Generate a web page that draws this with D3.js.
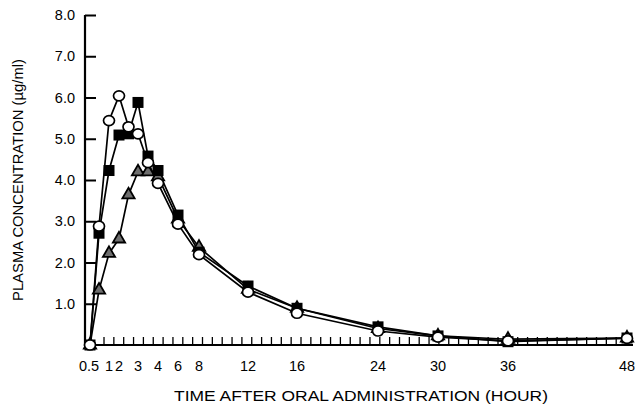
<!DOCTYPE html>
<html>
<head>
<meta charset="utf-8">
<script src="https://cdn.jsdelivr.net/npm/d3@7"></script>
<style>
  body { margin: 0; background: #fff; }
  text { font-family: "Liberation Sans", Arial, sans-serif; fill: #000; }
</style>
</head>
<body>
<div id="chart"></div>
<script>
// sampling times (hours) and the three plasma curves (ug/ml)
var times     = [0, 0.5, 1, 2, 2.5, 3, 3.5, 4, 6, 8, 12, 16, 24, 30, 36, 48];
var circles   = [0, 2.88, 5.44, 6.04, 5.29, 5.12, 4.42, 3.92, 2.93, 2.19, 1.28, 0.77, 0.34, 0.19, 0.10, 0.16];
var squares   = [0, 2.71, 4.23, 5.09, 5.12, 5.88, 4.58, 4.23, 3.15, 2.25, 1.43, 0.89, 0.44, 0.22, 0.08, 0.17];
var triangles = [0, 1.33, 2.22, 2.57, 3.64, 4.20, 4.20, 4.08, 3.05, 2.37, 1.35, 0.89, 0.40, 0.22, 0.14, 0.17];

var xTicks = [0.5, 1, 2, 3, 4, 6, 8, 12, 16, 24, 30, 36, 48];
var yTicks = [1, 2, 3, 4, 5, 6, 7, 8];

var width = 635, height = 405;

var svg = d3.select("#chart")
  .append("svg")
    .attr("width", width)
    .attr("height", height);

// the time axis of the original is not evenly spaced, so use a piecewise scale
var x = d3.scaleLinear()
  .domain([0, 0.5, 1, 2, 3, 4, 6, 8, 12, 16, 24, 30, 36, 48])
  .range([90, 99, 109, 119, 138, 158, 178, 199, 248, 297, 378, 438, 508, 627]);

var y = d3.scaleLinear()
  .domain([0, 8])
  .range([345, 15]);

// Y axis
var yAxis = svg.append("g")
  .attr("transform", "translate(85,0)")
  .call(d3.axisRight(y).tickValues(yTicks).tickSize(11).tickFormat(""));
yAxis.select(".domain").remove();
yAxis.selectAll(".tick line").attr("stroke", "#000").attr("stroke-width", 2);
svg.append("line")
  .attr("x1", 85).attr("x2", 85)
  .attr("y1", 15).attr("y2", 346)
  .attr("stroke", "#000").attr("stroke-width", 2.2);

svg.append("g").selectAll("text")
  .data(yTicks)
  .enter()
    .append("text")
    .attr("x", 75)
    .attr("y", function (d) { return y(d) + 5; })
    .attr("text-anchor", "end")
    .style("font-size", "14.5px")
    .text(function (d) { return d.toFixed(1); });

// X axis line + the little tick marks along it
svg.append("line")
  .attr("x1", 84).attr("x2", 633)
  .attr("y1", 345).attr("y2", 345)
  .attr("stroke", "#000").attr("stroke-width", 2.2);

svg.append("g").selectAll("line")
  .data(d3.range(104, 632, 9.85))
  .enter()
    .append("line")
    .attr("x1", function (d) { return d; })
    .attr("x2", function (d) { return d; })
    .attr("y1", 345).attr("y2", 337)
    .attr("stroke", "#000").attr("stroke-width", 1.3);

svg.append("g").selectAll("text")
  .data(xTicks)
  .enter()
    .append("text")
    .attr("x", function (d) { return d == 0.5 ? x(d) - 10 : x(d); })
    .attr("y", 371)
    .attr("text-anchor", "middle")
    .style("font-size", "14.5px")
    .text(function (d) { return d; });

// axis titles
svg.append("text")
  .attr("x", 361)
  .attr("y", 401)
  .attr("text-anchor", "middle")
  .attr("textLength", 374)
  .attr("lengthAdjust", "spacingAndGlyphs")
  .style("font-size", "14.5px")
  .text("TIME AFTER ORAL ADMINISTRATION (HOUR)");

svg.append("text")
  .attr("transform", "translate(23,180) rotate(-90)")
  .attr("text-anchor", "middle")
  .attr("textLength", 242)
  .attr("lengthAdjust", "spacingAndGlyphs")
  .style("font-size", "14.5px")
  .text("PLASMA CONCENTRATION (\u00b5g/ml)");

// lines
var line = function (vals) {
  return d3.line()
    .x(function (d, i) { return x(times[i]); })
    .y(function (d) { return y(d); })(vals);
};

[triangles, squares, circles].forEach(function (s) {
  svg.append("path")
    .attr("d", line(s))
    .attr("fill", "none")
    .attr("stroke", "#000")
    .attr("stroke-width", 1.7);
});

// triangles
svg.append("g").selectAll("path")
  .data(triangles)
  .enter()
    .append("path")
    .attr("transform", function (d, i) { return "translate(" + x(times[i]) + "," + y(d) + ")"; })
    .attr("d", d3.symbol().type(d3.symbolTriangle).size(65))
    .style("fill", "#6e6e6e")
    .attr("stroke", "#000")
    .attr("stroke-width", 1.8);

// squares
svg.append("g").selectAll("rect")
  .data(squares)
  .enter()
    .append("rect")
    .attr("x", function (d, i) { return x(times[i]) - 5.5; })
    .attr("y", function (d) { return y(d) - 5.5; })
    .attr("width", 11).attr("height", 11)
    .style("fill", "#000");

// circles
svg.append("g").selectAll("ellipse")
  .data(circles)
  .enter()
    .append("ellipse")
    .attr("cx", function (d, i) { return x(times[i]); })
    .attr("cy", function (d) { return y(d); })
    .attr("rx", 5.5).attr("ry", 5)
    .style("fill", "#fff")
    .attr("stroke", "#000")
    .attr("stroke-width", 1.7);
</script>
</body>
</html>
